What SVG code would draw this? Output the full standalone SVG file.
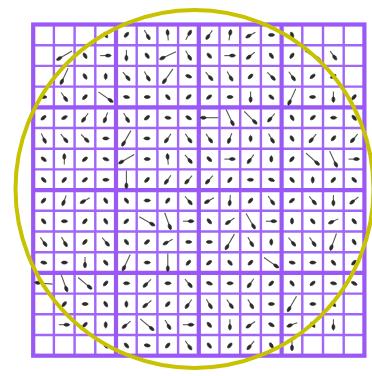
<svg xmlns="http://www.w3.org/2000/svg" xmlns:xlink="http://www.w3.org/1999/xlink" width="372" height="376" viewBox="0 0 372 376">
<defs>
<style>
.thin{stroke:#a066f7;stroke-width:2.4;fill:none}
.thick{stroke:#9a58f6;stroke-width:4.2;fill:none}
.sh{stroke:#555;stroke-width:1.1;fill:none}
.h{fill:#2a2a2a;stroke:#2a2a2a;stroke-width:0.6;stroke-linejoin:round}
</style>
<g id="s"><path class="h" d="M3.4 0C2.2-1.9-2-2.1-3 0C-2 2.1 2.2 1.9 3.4 0Z"/></g>
<g id="m"><path class="sh" d="M-5.5 0H1"/><path class="h" d="M5.5 0C4.3-1.9 0.6-2.1-0.6 0C0.6 2.1 4.3 1.9 5.5 0Z"/></g>
<g id="l"><path class="sh" d="M-9 0H4"/><path class="h" d="M9 0C7.8-1.9 4.1-2.1 2.9 0C4.1 2.1 7.8 1.9 9 0Z"/></g>
<filter id="soft" x="-5%" y="-5%" width="110%" height="110%"><feGaussianBlur stdDeviation="0.45"/></filter>
</defs>
<rect width="372" height="376" fill="#fff"/>
<g id="grid" filter="url(#soft)">
<path class="thin" d="M53.9 24.5V355.7M74.6 24.5V355.7M95.3 24.5V355.7M136.7 24.5V355.7M157.4 24.5V355.7M178.1 24.5V355.7M219.5 24.5V355.7M240.2 24.5V355.7M260.9 24.5V355.7M302.3 24.5V355.7M323 24.5V355.7M343.7 24.5V355.7M33.2 45.2H364.4M33.2 65.9H364.4M33.2 86.6H364.4M33.2 128H364.4M33.2 148.7H364.4M33.2 169.4H364.4M33.2 210.8H364.4M33.2 231.5H364.4M33.2 252.2H364.4M33.2 293.6H364.4M33.2 314.3H364.4M33.2 335H364.4"/>
<path class="thick" d="M116 24.5V355.7M198.8 24.5V355.7M281.6 24.5V355.7M33.2 107.3H364.4M33.2 190.1H364.4M33.2 272.9H364.4"/>
<rect class="thick" x="33.2" y="24.5" width="331.2" height="331.2"/>
</g>
<g id="arrows" filter="url(#soft)">
<g id="r0" transform="translate(0 34.9)">
<use href="#s" transform="translate(105.7) rotate(60)"/>
<use href="#s" transform="translate(126.4) rotate(-50)"/>
<use href="#m" transform="translate(147.1) rotate(60)"/>
<use href="#m" transform="translate(167.8) rotate(-95)"/>
<use href="#m" transform="translate(188.5) rotate(-60)"/>
<use href="#m" transform="translate(209.2) rotate(125)"/>
<use href="#m" transform="translate(229.9) rotate(-80)"/>
<use href="#m" transform="translate(250.6) rotate(150)"/>
<use href="#s" transform="translate(271.3) rotate(0)"/>
<use href="#s" transform="translate(292) rotate(70)"/>
</g>
<g id="r1" transform="translate(0 55.6)">
<use href="#l" transform="translate(64.3) rotate(150)"/>
<use href="#s" transform="translate(85) rotate(60)"/>
<use href="#m" transform="translate(105.7) rotate(0)"/>
<use href="#m" transform="translate(126.4) rotate(90)"/>
<use href="#s" transform="translate(147.1) rotate(55)"/>
<use href="#l" transform="translate(167.8) rotate(155)"/>
<use href="#m" transform="translate(188.5) rotate(60)"/>
<use href="#s" transform="translate(209.2) rotate(50)"/>
<use href="#m" transform="translate(229.9) rotate(0)"/>
<use href="#m" transform="translate(250.6) rotate(140)"/>
<use href="#s" transform="translate(271.3) rotate(55)"/>
<use href="#s" transform="translate(292) rotate(125)"/>
<use href="#l" transform="translate(312.7) rotate(30)"/>
<use href="#m" transform="translate(333.4) rotate(55)"/>
</g>
<g id="r2" transform="translate(0 76.3)">
<use href="#l" transform="translate(64.3) rotate(115)"/>
<use href="#s" transform="translate(85) rotate(60)"/>
<use href="#s" transform="translate(105.7) rotate(90)"/>
<use href="#m" transform="translate(126.4) rotate(50)"/>
<use href="#m" transform="translate(147.1) rotate(60)"/>
<use href="#l" transform="translate(167.8) rotate(125)"/>
<use href="#s" transform="translate(188.5) rotate(20)"/>
<use href="#m" transform="translate(209.2) rotate(50)"/>
<use href="#m" transform="translate(229.9) rotate(60)"/>
<use href="#s" transform="translate(250.6) rotate(135)"/>
<use href="#m" transform="translate(271.3) rotate(45)"/>
<use href="#m" transform="translate(292) rotate(55)"/>
<use href="#s" transform="translate(312.7) rotate(140)"/>
<use href="#s" transform="translate(333.4) rotate(150)"/>
</g>
<g id="r3" transform="translate(0 97)">
<use href="#s" transform="translate(43.6) rotate(0)"/>
<use href="#m" transform="translate(64.3) rotate(55)"/>
<use href="#s" transform="translate(85) rotate(135)"/>
<use href="#l" transform="translate(105.7) rotate(35)"/>
<use href="#s" transform="translate(126.4) rotate(10)"/>
<use href="#s" transform="translate(147.1) rotate(0)"/>
<use href="#s" transform="translate(167.8) rotate(50)"/>
<use href="#s" transform="translate(188.5) rotate(-40)"/>
<use href="#s" transform="translate(209.2) rotate(140)"/>
<use href="#s" transform="translate(229.9) rotate(0)"/>
<use href="#m" transform="translate(250.6) rotate(90)"/>
<use href="#s" transform="translate(271.3) rotate(40)"/>
<use href="#l" transform="translate(292) rotate(115)"/>
<use href="#s" transform="translate(312.7) rotate(180)"/>
<use href="#m" transform="translate(333.4) rotate(90)"/>
<use href="#s" transform="translate(354.1) rotate(130)"/>
</g>
<g id="r4" transform="translate(0 117.7)">
<use href="#s" transform="translate(43.6) rotate(140)"/>
<use href="#s" transform="translate(64.3) rotate(-30)"/>
<use href="#m" transform="translate(85) rotate(125)"/>
<use href="#m" transform="translate(105.7) rotate(110)"/>
<use href="#m" transform="translate(126.4) rotate(60)"/>
<use href="#s" transform="translate(147.1) rotate(140)"/>
<use href="#s" transform="translate(167.8) rotate(10)"/>
<use href="#s" transform="translate(188.5) rotate(30)"/>
<use href="#l" transform="translate(209.2) rotate(180)"/>
<use href="#l" transform="translate(229.9) rotate(65)"/>
<use href="#l" transform="translate(250.6) rotate(45)"/>
<use href="#m" transform="translate(271.3) rotate(130)"/>
<use href="#s" transform="translate(292) rotate(60)"/>
<use href="#s" transform="translate(312.7) rotate(-40)"/>
<use href="#s" transform="translate(333.4) rotate(0)"/>
<use href="#s" transform="translate(354.1) rotate(50)"/>
</g>
<g id="r5" transform="translate(0 138.4)">
<use href="#m" transform="translate(43.6) rotate(65)"/>
<use href="#m" transform="translate(64.3) rotate(50)"/>
<use href="#m" transform="translate(85) rotate(45)"/>
<use href="#s" transform="translate(105.7) rotate(0)"/>
<use href="#l" transform="translate(126.4) rotate(120)"/>
<use href="#s" transform="translate(147.1) rotate(180)"/>
<use href="#m" transform="translate(167.8) rotate(125)"/>
<use href="#m" transform="translate(188.5) rotate(55)"/>
<use href="#m" transform="translate(209.2) rotate(55)"/>
<use href="#m" transform="translate(229.9) rotate(110)"/>
<use href="#s" transform="translate(250.6) rotate(90)"/>
<use href="#m" transform="translate(271.3) rotate(60)"/>
<use href="#s" transform="translate(292) rotate(60)"/>
<use href="#m" transform="translate(312.7) rotate(130)"/>
<use href="#s" transform="translate(333.4) rotate(-50)"/>
<use href="#m" transform="translate(354.1) rotate(130)"/>
</g>
<g id="r6" transform="translate(0 159.1)">
<use href="#s" transform="translate(43.6) rotate(40)"/>
<use href="#m" transform="translate(64.3) rotate(-90)"/>
<use href="#s" transform="translate(85) rotate(140)"/>
<use href="#s" transform="translate(105.7) rotate(20)"/>
<use href="#l" transform="translate(126.4) rotate(150)"/>
<use href="#s" transform="translate(147.1) rotate(0)"/>
<use href="#m" transform="translate(167.8) rotate(-95)"/>
<use href="#m" transform="translate(188.5) rotate(50)"/>
<use href="#s" transform="translate(209.2) rotate(45)"/>
<use href="#m" transform="translate(229.9) rotate(0)"/>
<use href="#m" transform="translate(250.6) rotate(125)"/>
<use href="#s" transform="translate(271.3) rotate(-90)"/>
<use href="#s" transform="translate(292) rotate(130)"/>
<use href="#l" transform="translate(312.7) rotate(42)"/>
<use href="#l" transform="translate(333.4) rotate(65)"/>
<use href="#m" transform="translate(354.1) rotate(0)"/>
</g>
<g id="r7" transform="translate(0 179.8)">
<use href="#s" transform="translate(43.6) rotate(45)"/>
<use href="#s" transform="translate(64.3) rotate(130)"/>
<use href="#s" transform="translate(85) rotate(140)"/>
<use href="#s" transform="translate(105.7) rotate(0)"/>
<use href="#l" transform="translate(126.4) rotate(90)"/>
<use href="#s" transform="translate(147.1) rotate(135)"/>
<use href="#m" transform="translate(167.8) rotate(125)"/>
<use href="#m" transform="translate(188.5) rotate(130)"/>
<use href="#m" transform="translate(209.2) rotate(130)"/>
<use href="#s" transform="translate(229.9) rotate(125)"/>
<use href="#s" transform="translate(250.6) rotate(180)"/>
<use href="#s" transform="translate(271.3) rotate(20)"/>
<use href="#s" transform="translate(292) rotate(50)"/>
<use href="#s" transform="translate(312.7) rotate(90)"/>
<use href="#s" transform="translate(333.4) rotate(130)"/>
<use href="#s" transform="translate(354.1) rotate(45)"/>
</g>
<g id="r8" transform="translate(0 200.5)">
<use href="#s" transform="translate(43.6) rotate(130)"/>
<use href="#m" transform="translate(64.3) rotate(110)"/>
<use href="#m" transform="translate(85) rotate(150)"/>
<use href="#s" transform="translate(105.7) rotate(60)"/>
<use href="#s" transform="translate(126.4) rotate(55)"/>
<use href="#s" transform="translate(147.1) rotate(0)"/>
<use href="#s" transform="translate(167.8) rotate(125)"/>
<use href="#m" transform="translate(188.5) rotate(50)"/>
<use href="#m" transform="translate(209.2) rotate(150)"/>
<use href="#m" transform="translate(229.9) rotate(95)"/>
<use href="#s" transform="translate(250.6) rotate(130)"/>
<use href="#m" transform="translate(271.3) rotate(55)"/>
<use href="#s" transform="translate(292) rotate(140)"/>
<use href="#m" transform="translate(312.7) rotate(50)"/>
<use href="#m" transform="translate(333.4) rotate(90)"/>
<use href="#m" transform="translate(354.1) rotate(140)"/>
</g>
<g id="r9" transform="translate(0 221.2)">
<use href="#s" transform="translate(43.6) rotate(50)"/>
<use href="#s" transform="translate(64.3) rotate(0)"/>
<use href="#s" transform="translate(85) rotate(130)"/>
<use href="#s" transform="translate(105.7) rotate(60)"/>
<use href="#s" transform="translate(126.4) rotate(135)"/>
<use href="#l" transform="translate(147.1) rotate(30)"/>
<use href="#l" transform="translate(167.8) rotate(70)"/>
<use href="#m" transform="translate(188.5) rotate(0)"/>
<use href="#s" transform="translate(209.2) rotate(50)"/>
<use href="#m" transform="translate(229.9) rotate(145)"/>
<use href="#l" transform="translate(250.6) rotate(60)"/>
<use href="#m" transform="translate(271.3) rotate(0)"/>
<use href="#s" transform="translate(292) rotate(-90)"/>
<use href="#s" transform="translate(312.7) rotate(50)"/>
<use href="#m" transform="translate(333.4) rotate(155)"/>
<use href="#s" transform="translate(354.1) rotate(50)"/>
</g>
<g id="r10" transform="translate(0 241.9)">
<use href="#m" transform="translate(43.6) rotate(55)"/>
<use href="#m" transform="translate(64.3) rotate(60)"/>
<use href="#s" transform="translate(85) rotate(130)"/>
<use href="#m" transform="translate(105.7) rotate(50)"/>
<use href="#s" transform="translate(126.4) rotate(55)"/>
<use href="#s" transform="translate(147.1) rotate(140)"/>
<use href="#m" transform="translate(167.8) rotate(150)"/>
<use href="#s" transform="translate(188.5) rotate(0)"/>
<use href="#s" transform="translate(209.2) rotate(0)"/>
<use href="#l" transform="translate(229.9) rotate(120)"/>
<use href="#m" transform="translate(250.6) rotate(60)"/>
<use href="#s" transform="translate(271.3) rotate(90)"/>
<use href="#m" transform="translate(292) rotate(50)"/>
<use href="#m" transform="translate(312.7) rotate(55)"/>
<use href="#l" transform="translate(333.4) rotate(110)"/>
<use href="#s" transform="translate(354.1) rotate(60)"/>
</g>
<g id="r11" transform="translate(0 262.6)">
<use href="#s" transform="translate(43.6) rotate(10)"/>
<use href="#s" transform="translate(64.3) rotate(0)"/>
<use href="#m" transform="translate(85) rotate(90)"/>
<use href="#s" transform="translate(105.7) rotate(50)"/>
<use href="#l" transform="translate(126.4) rotate(115)"/>
<use href="#s" transform="translate(147.1) rotate(0)"/>
<use href="#l" transform="translate(167.8) rotate(90)"/>
<use href="#s" transform="translate(188.5) rotate(130)"/>
<use href="#s" transform="translate(209.2) rotate(140)"/>
<use href="#s" transform="translate(229.9) rotate(50)"/>
<use href="#s" transform="translate(250.6) rotate(135)"/>
<use href="#l" transform="translate(271.3) rotate(35)"/>
<use href="#s" transform="translate(292) rotate(10)"/>
<use href="#s" transform="translate(312.7) rotate(0)"/>
<use href="#s" transform="translate(333.4) rotate(50)"/>
<use href="#s" transform="translate(354.1) rotate(135)"/>
</g>
<g id="r12" transform="translate(0 283.3)">
<use href="#l" transform="translate(43.6) rotate(185)"/>
<use href="#l" transform="translate(64.3) rotate(70)"/>
<use href="#l" transform="translate(85) rotate(40)"/>
<use href="#s" transform="translate(105.7) rotate(130)"/>
<use href="#s" transform="translate(126.4) rotate(0)"/>
<use href="#m" transform="translate(147.1) rotate(135)"/>
<use href="#s" transform="translate(167.8) rotate(0)"/>
<use href="#m" transform="translate(188.5) rotate(50)"/>
<use href="#s" transform="translate(209.2) rotate(20)"/>
<use href="#s" transform="translate(229.9) rotate(0)"/>
<use href="#m" transform="translate(250.6) rotate(125)"/>
<use href="#s" transform="translate(271.3) rotate(135)"/>
<use href="#s" transform="translate(292) rotate(55)"/>
<use href="#s" transform="translate(312.7) rotate(140)"/>
<use href="#s" transform="translate(333.4) rotate(10)"/>
<use href="#s" transform="translate(354.1) rotate(30)"/>
</g>
<g id="r13" transform="translate(0 304)">
<use href="#s" transform="translate(64.3) rotate(130)"/>
<use href="#s" transform="translate(85) rotate(0)"/>
<use href="#s" transform="translate(105.7) rotate(60)"/>
<use href="#s" transform="translate(126.4) rotate(90)"/>
<use href="#m" transform="translate(147.1) rotate(140)"/>
<use href="#s" transform="translate(167.8) rotate(130)"/>
<use href="#m" transform="translate(188.5) rotate(125)"/>
<use href="#m" transform="translate(209.2) rotate(60)"/>
<use href="#m" transform="translate(229.9) rotate(55)"/>
<use href="#m" transform="translate(250.6) rotate(60)"/>
<use href="#s" transform="translate(271.3) rotate(0)"/>
<use href="#l" transform="translate(292) rotate(120)"/>
<use href="#s" transform="translate(312.7) rotate(0)"/>
<use href="#s" transform="translate(333.4) rotate(50)"/>
</g>
<g id="r14" transform="translate(0 324.7)">
<use href="#m" transform="translate(64.3) rotate(0)"/>
<use href="#s" transform="translate(85) rotate(135)"/>
<use href="#s" transform="translate(105.7) rotate(90)"/>
<use href="#m" transform="translate(126.4) rotate(140)"/>
<use href="#l" transform="translate(147.1) rotate(40)"/>
<use href="#m" transform="translate(167.8) rotate(60)"/>
<use href="#m" transform="translate(188.5) rotate(0)"/>
<use href="#s" transform="translate(209.2) rotate(50)"/>
<use href="#m" transform="translate(229.9) rotate(90)"/>
<use href="#m" transform="translate(250.6) rotate(145)"/>
<use href="#s" transform="translate(271.3) rotate(30)"/>
<use href="#m" transform="translate(292) rotate(160)"/>
<use href="#s" transform="translate(312.7) rotate(50)"/>
<use href="#m" transform="translate(333.4) rotate(90)"/>
</g>
<g id="r15" transform="translate(0 345.4)">
<use href="#s" transform="translate(105.7) rotate(60)"/>
<use href="#s" transform="translate(126.4) rotate(50)"/>
<use href="#s" transform="translate(147.1) rotate(10)"/>
<use href="#s" transform="translate(167.8) rotate(130)"/>
<use href="#m" transform="translate(188.5) rotate(55)"/>
<use href="#s" transform="translate(209.2) rotate(55)"/>
<use href="#s" transform="translate(229.9) rotate(130)"/>
<use href="#m" transform="translate(250.6) rotate(130)"/>
<use href="#s" transform="translate(271.3) rotate(60)"/>
<use href="#m" transform="translate(292) rotate(90)"/>
</g>
</g>
<g id="region">
<circle cx="194.5" cy="189" r="179" fill="none" stroke="#c8c200" stroke-width="4"/>
</g>
</svg>
